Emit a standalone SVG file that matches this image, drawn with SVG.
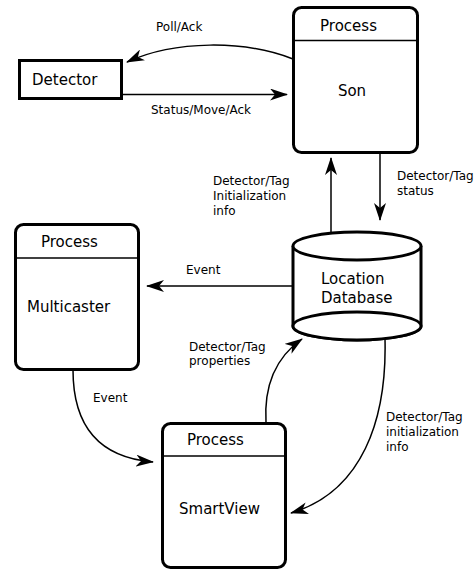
<svg xmlns="http://www.w3.org/2000/svg" width="474" height="569" viewBox="0 0 474 569">
  <defs>
    <style>
      .box { fill: #fff; stroke: #000; stroke-width: 3; }
      .sep { stroke: #000; stroke-width: 1.5; }
      .node { font-family: "DejaVu Sans", Verdana, sans-serif; font-size: 15px; fill: #000; }
      .lbl { font-family: "DejaVu Sans", Verdana, sans-serif; font-size: 12px; fill: #000; }
      .conn { fill: none; stroke: #000; stroke-width: 1.5; marker-end: url(#arrow); }
    </style>
    <marker id="arrow" viewBox="0 0 18 12" markerWidth="18" markerHeight="12" refX="17" refY="6" orient="auto" markerUnits="userSpaceOnUse">
      <path d="M18,6 L0,0 L5,6 L0,12 Z" fill="#000"/>
    </marker>
  </defs>
  <rect width="474" height="569" fill="#fff"/>

  <g id="connectors">
    <path class="conn" d="M293,59 C245,40 175,40 127,62"/>
    <path class="conn" d="M122,94.5 L287,94.5"/>
    <path class="conn" d="M331,233 L331,158"/>
    <path class="conn" d="M380,153 L380,220"/>
    <path class="conn" d="M293,286 L147,286"/>
    <path class="conn" d="M73,370 C73,432 105,458 153,462"/>
    <path class="conn" d="M266,423 C264,390 272,360 302,339"/>
    <path class="conn" d="M385,339 C387,420 362,492 291,513"/>
  </g>

  <g id="labels" class="lbl">
    <text x="156" y="31">Poll/Ack</text>
    <text x="151" y="114">Status/Move/Ack</text>
    <text x="213" y="185">Detector/Tag</text>
    <text x="213" y="200">Initialization</text>
    <text x="213" y="215">info</text>
    <text x="397" y="180">Detector/Tag</text>
    <text x="397" y="194.5">status</text>
    <text x="186" y="274">Event</text>
    <text x="189" y="350.5">Detector/Tag</text>
    <text x="189" y="365">properties</text>
    <text x="93" y="402">Event</text>
    <text x="386" y="421">Detector/Tag</text>
    <text x="386" y="436">initialization</text>
    <text x="386" y="451">info</text>
  </g>

  <g id="detector">
    <rect class="box" x="19.5" y="60.5" width="102" height="38"/>
    <text class="node" x="32" y="85">Detector</text>
  </g>

  <g id="son">
    <rect class="box" x="293.5" y="7.5" width="124" height="145" rx="8"/>
    <line class="sep" x1="293.5" y1="40.5" x2="417.5" y2="40.5"/>
    <text class="node" x="348.5" y="31" text-anchor="middle">Process</text>
    <text class="node" x="352" y="95.5" text-anchor="middle">Son</text>
  </g>

  <g id="location-database">
    <path class="box" d="M293,246 L293,326 A64,14 0 0 0 421,326 L421,246"/>
    <ellipse class="box" cx="357" cy="246" rx="64" ry="14"/>
    <ellipse class="box" cx="357" cy="326" rx="64" ry="14"/>
    <text class="node" x="321" y="284">Location</text>
    <text class="node" x="321" y="303">Database</text>
  </g>

  <g id="multicaster">
    <rect class="box" x="15.5" y="224.5" width="123" height="145" rx="8"/>
    <line class="sep" x1="15.5" y1="258" x2="138.5" y2="258"/>
    <text class="node" x="41" y="247">Process</text>
    <text class="node" x="27" y="312">Multicaster</text>
  </g>

  <g id="smartview">
    <rect class="box" x="162.5" y="423.5" width="123" height="144" rx="8"/>
    <line class="sep" x1="162.5" y1="456" x2="285.5" y2="456"/>
    <text class="node" x="187" y="445">Process</text>
    <text class="node" x="179" y="514">SmartView</text>
  </g>
</svg>
